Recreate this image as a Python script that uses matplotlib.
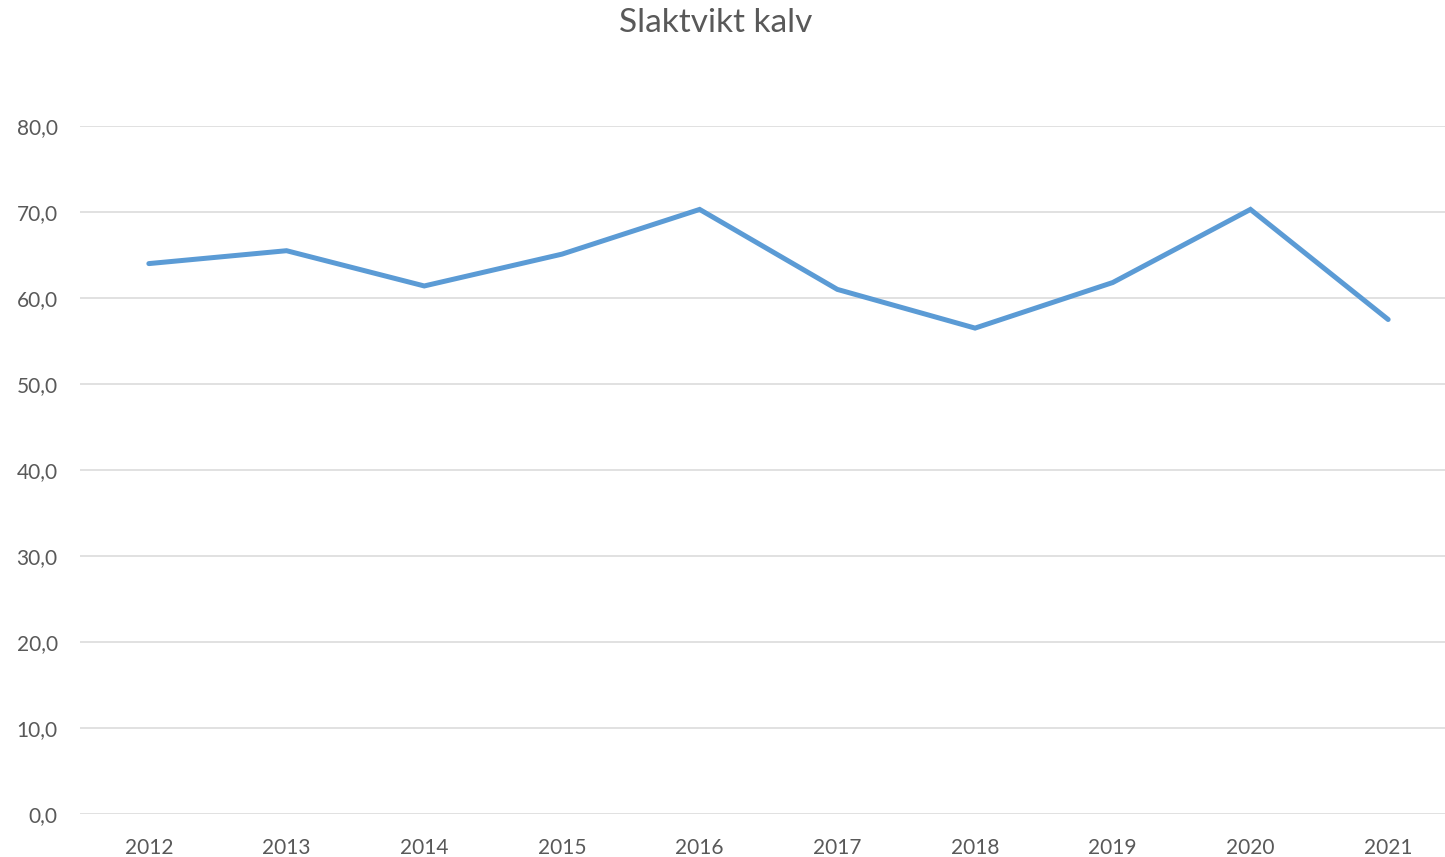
import matplotlib.pyplot as plt
from matplotlib.ticker import FuncFormatter

years = ["2012", "2013", "2014", "2015", "2016", "2017", "2018", "2019", "2020", "2021"]
weight = [64.0, 65.5, 61.4, 65.1, 70.3, 61.0, 56.5, 61.8, 70.3, 57.5]
yticks = [0, 10, 20, 30, 40, 50, 60, 70, 80]

plt.rcParams["font.family"] = ["Lato", "DejaVu Sans"]

W, H = 1445, 857
fig = plt.figure(figsize=(W / 100, H / 100), dpi=100)
ax = fig.add_axes([80 / W, (H - 814) / H, (1457 - 80) / W, (814 - 126) / H])

x = range(len(years))
ax.plot(x, weight, color="#5B9BD5", linewidth=3.6, solid_capstyle="round",
        solid_joinstyle="miter")

ax.set_xlim(-0.5, len(years) - 0.5)
ax.set_ylim(0, 80)
ax.set_xticks(list(x))
ax.set_xticklabels(years)
ax.set_yticks(yticks)
ax.yaxis.set_major_formatter(FuncFormatter(lambda v, p: f"{v:.1f}".replace(".", ",")))

ax.grid(axis="y", color="#D9D9D9", linewidth=1.1)
ax.set_axisbelow(True)
for s in ax.spines.values():
    s.set_visible(False)
ax.tick_params(length=0, labelsize=15, labelcolor="#595959")
ax.tick_params(axis="y", pad=16)
ax.tick_params(axis="x", pad=17)

fig.text(716 / W, 1 - 23 / H, "Slaktvikt kalv", ha="center", va="center",
         fontsize=24, color="#595959")

fig.savefig("out.png", dpi=100)
